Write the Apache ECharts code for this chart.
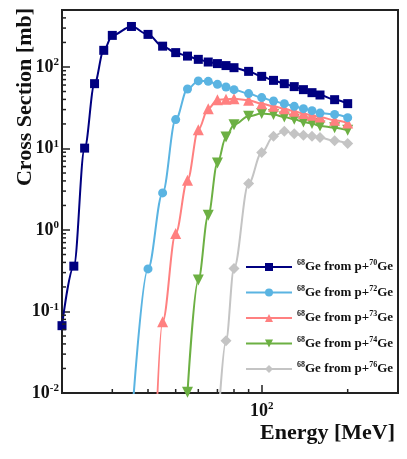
<!DOCTYPE html>
<html><head><meta charset="utf-8">
<script src="https://cdn.jsdelivr.net/npm/echarts@6/dist/echarts.min.js"></script>
<style>html,body{margin:0;padding:0;background:#fff}#c{width:407px;height:459px}</style>
</head><body><div id="c"></div>
<script>
// ---- data ----
const targets = ['70', '72', '73', '74', '76'];
const seriesNames = targets.map(t => '68Ge from p+' + t + 'Ge');
const colors = ['#000080', '#5ab4e2', '#ff8080', '#6cb043', '#c4c4c4'];
const symbols = ['rect', 'circle', 'triangle', 'triangle', 'diamond'];
const rotations = [0, 0, 0, 180, 0];

const e70 = [20, 22, 24, 26, 28, 30, 35, 40, 45, 50, 55, 60, 65, 70, 75, 80, 90, 100, 110, 120, 130, 140, 150, 160, 180, 200];
const xs70 = [0.067, 0.36, 10.1, 62.4, 160, 244, 314, 251, 180, 150, 136, 124, 115, 110, 104, 98, 88.3, 76.7, 68.5, 62.4, 57.4, 52.7, 48.4, 45.3, 39.7, 35.5];

const e72 = [35, 40, 45, 50, 55, 60, 65, 70, 75, 80, 90, 100, 110, 120, 130, 140, 150, 160, 180, 200];
const xs72 = [0.004, 0.333, 2.85, 22.6, 53.6, 67.5, 66.6, 61.2, 56.7, 52.7, 47.1, 42.1, 38.2, 35.5, 32.9, 30.8, 29.1, 27.2, 26.2, 23.9];

const e73 = [40, 45, 50, 55, 60, 65, 70, 75, 80, 90, 100, 110, 120, 130, 140, 150, 160, 180, 200];
const xs73 = [0.000002, 0.075, 0.906, 4.08, 17, 30.8, 39.7, 40.1, 40.8, 39, 35.5, 32.9, 30.8, 28.6, 26.8, 25.5, 24.3, 22.2, 20.5];

const e74 = [55, 60, 65, 70, 75, 80, 90, 100, 110, 120, 130, 140, 150, 160, 180, 200];
const xs74 = [0.0102, 0.243, 1.52, 6.64, 13.8, 19.6, 24.8, 26.8, 26.2, 24.3, 22.8, 21.1, 20.2, 18.9, 18.0, 16.7];

const e76 = [70, 75, 80, 90, 100, 110, 120, 130, 140, 150, 160, 180, 200];
const xs76 = [0.003, 0.0437, 0.338, 3.71, 8.9, 14.1, 16.3, 15.2, 14.5, 14.1, 13.6, 12.4, 11.5];

const xMin = 20, xMax = 300, yMin = 0.01, yMax = 500;
const xMinorTicks = [30, 40, 50, 60, 70, 80, 90, 200];
const yMinorTicks = [0.02,0.03,0.04,0.05,0.06,0.07,0.08,0.09, 0.2,0.3,0.4,0.5,0.6,0.7,0.8,0.9,
  2,3,4,5,6,7,8,9, 20,30,40,50,60,70,80,90, 200,300,400];
const xTitle = 'Energy [MeV]';
const yTitle = 'Cross Section [mb]';

// ---- chart ----
const energies = [e70, e72, e73, e74, e76];
const values = [xs70, xs72, xs73, xs74, xs76];
const FONT = 'Liberation Serif';
const AX = '#222';

function powLabel(v) {
  const l = Math.log10(v);
  const r = Math.round(l);
  if (Math.abs(l - r) > 1e-6) return '';
  return '{b|10}{s|' + r + '}';
}
const labelRich = {
  b: { fontFamily: FONT, fontWeight: 'bold', fontSize: 18, lineHeight: 20, color: '#111' },
  s: { fontFamily: FONT, fontWeight: 'bold', fontSize: 11, lineHeight: 13, verticalAlign: 'top', color: '#111' }
};

const lineSeries = seriesNames.map((name, i) => ({
  name: name,
  type: 'line',
  data: energies[i].map((e, j) => [e, values[i][j]]),
  smooth: 0.35,
  smoothMonotone: 'x',
  symbol: symbols[i],
  symbolRotate: rotations[i],
  symbolSize: symbols[i] === 'circle' ? 9 : (symbols[i] === 'rect' ? 9 : 11),
  showAllSymbol: true,
  color: colors[i],
  lineStyle: { width: 2, color: colors[i] },
  itemStyle: { color: colors[i] },
  clip: true,
  z: 5 - i + 2
}));

function tickSeries(data, horizontal) {
  return {
    type: 'custom', silent: true, clip: false, z: 8,
    data: data,
    renderItem: function (params, api) {
      const p = api.coord([api.value(0), api.value(1)]);
      return {
        type: 'line',
        shape: horizontal ? { x1: p[0], y1: p[1], x2: p[0] + 4, y2: p[1] }
                           : { x1: p[0], y1: p[1], x2: p[0], y2: p[1] - 4 },
        style: { stroke: AX, lineWidth: 1.5 }
      };
    }
  };
}

const chart = echarts.init(document.getElementById('c'), null, { renderer: 'canvas' });
chart.setOption({
  animation: false,
  backgroundColor: '#fff',
  grid: { left: 62, top: 10, width: 336, height: 383, show: true, borderColor: AX, borderWidth: 2, backgroundColor: 'transparent' },
  xAxis: {
    type: 'log', logBase: 10, min: xMin, max: xMax,
    axisLine: { show: true, onZero: false, lineStyle: { color: AX, width: 2 } },
    axisTick: { show: true, inside: true, length: 8, lineStyle: { color: AX, width: 1.5 } },
    splitLine: { show: false },
    axisLabel: { margin: 8, formatter: powLabel, rich: labelRich, showMinLabel: true, showMaxLabel: true }
  },
  yAxis: {
    type: 'log', logBase: 10, min: yMin, max: yMax,
    axisLine: { show: true, lineStyle: { color: AX, width: 2 } },
    axisTick: { show: true, inside: true, length: 8, lineStyle: { color: AX, width: 1.5 } },
    splitLine: { show: false },
    axisLabel: { margin: 3, formatter: powLabel, rich: labelRich }
  },
  legend: {
    data: seriesNames,
    orient: 'vertical',
    left: 245, top: 259,
    padding: 0,
    itemWidth: 46, itemHeight: 10, itemGap: 11,
    formatter: function (name) {
      const i = seriesNames.indexOf(name);
      return '{s|68}{n|Ge from p+}{s|' + targets[i] + '}{n|Ge}';
    },
    textStyle: {
      rich: {
        n: { fontFamily: FONT, fontWeight: 'bold', fontSize: 13, lineHeight: 16, color: '#111' },
        s: { fontFamily: FONT, fontWeight: 'bold', fontSize: 8, lineHeight: 9, verticalAlign: 'top', color: '#111' }
      }
    }
  },
  graphic: [
    { type: 'text', x: 25, y: 97, rotation: Math.PI / 2,
      style: { text: yTitle, fontFamily: FONT, fontWeight: 'bold', fontSize: 22, fill: '#111', align: 'center', verticalAlign: 'middle' } },
    { type: 'text', x: 395, y: 433,
      style: { text: xTitle, fontFamily: FONT, fontWeight: 'bold', fontSize: 22, fill: '#111', align: 'right', verticalAlign: 'middle' } }
  ],
  series: lineSeries.concat([
    tickSeries(yMinorTicks.map(v => [xMin, v]), true),
    tickSeries(xMinorTicks.map(v => [v, yMin]), false)
  ])
});
</script>
</body></html>
